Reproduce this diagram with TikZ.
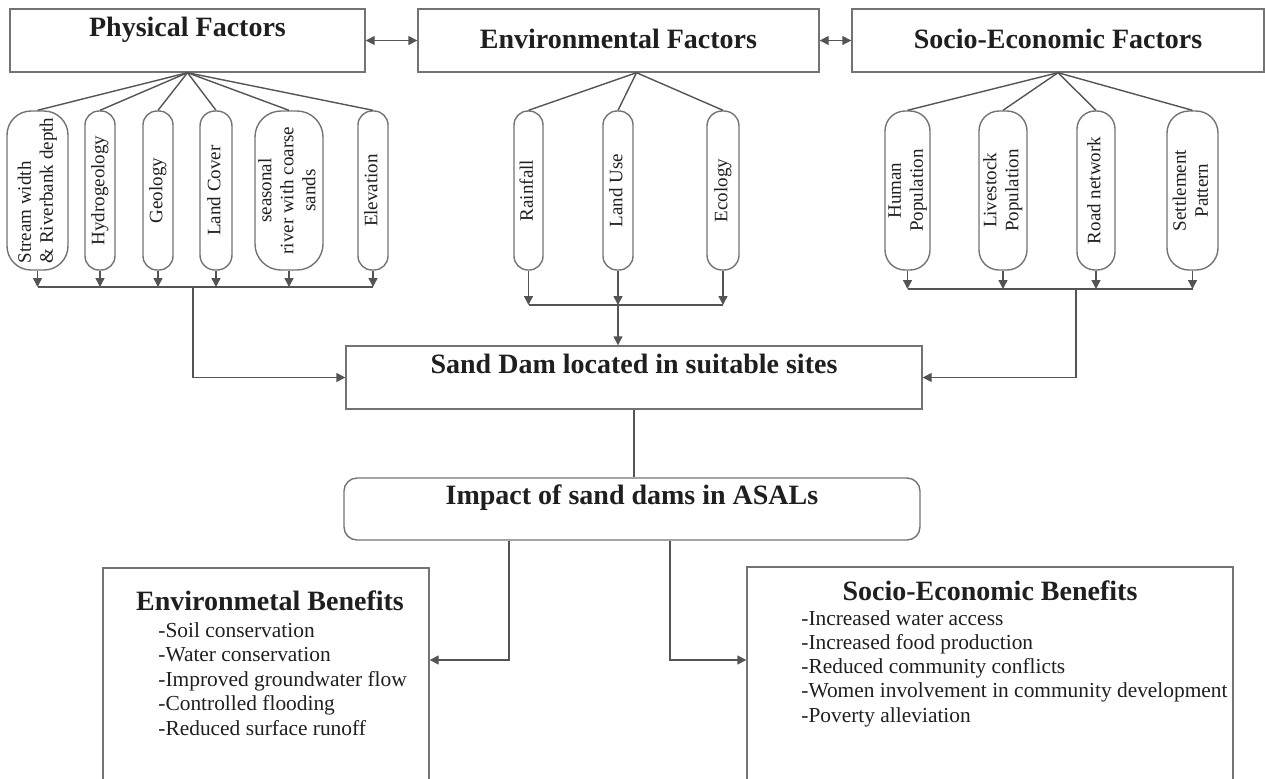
\documentclass[tikz,border=0pt]{standalone}
\usepackage{fontspec}
\setmainfont{Liberation Serif}
\usepackage{xcolor}
\definecolor{edge}{gray}{.33}
\definecolor{frame}{gray}{.45}
\definecolor{ink}{gray}{.12}
\usepackage{graphicx}
\usepackage{tikz}
\usetikzlibrary{arrows.meta}
\newcommand{\heightpill}{79.5pt}
\newcommand{\heightbox}{31.5pt}
\newcommand{\side}[2][c]{\rotatebox{90}{\begin{tabular}{@{}#1@{}}#2\end{tabular}}}
\tikzset{
    common/.style={draw=frame, line width=0.7pt, text=ink, inner sep=0pt},
    factor/.style={common, rectangle, minimum height=\heightbox, font=\fontsize{14}{16}\selectfont\bfseries},
    lift/.style={text height=9.5pt, text depth=#1},
    pill/.style={common, rectangle, rounded corners=#1, minimum height=\heightpill, font=\fontsize{9.5}{11}\selectfont},
    heading/.style={text=ink, inner sep=0pt, anchor=base, font=\fontsize{14}{16}\selectfont\bfseries},
    item/.style={text=ink, inner sep=0pt, anchor=base west, font=\fontsize{10.7}{12}\selectfont},
    link/.style={draw=edge, line width=0.7pt},
    arrow/.style={link, -{Triangle[length=4.5pt, width=4.5pt]}},
    both/.style={link, {Triangle[length=4.5pt, width=4.5pt]}-{Triangle[length=4.5pt, width=4.5pt]}}
}

\begin{document}
\begin{tikzpicture}[x=0.5pt, y=-0.5pt]
    \useasboundingbox (0,0) rectangle (1265,778);
    \clip (0,0) rectangle (1265,778);

    % three groups of factors
    \node[factor, minimum width=177.5pt, lift=14pt] (phys) at (187.5,40.5) {Physical Factors};
    \node[factor, minimum width=200.5pt, lift=2pt] (env) at (618.5,40.5) {Environmental Factors};
    \node[factor, minimum width=206pt, lift=2pt] (soc) at (1058,40.5) {Socio-Economic Factors};

    \draw[both] (phys) -- (env);
    \draw[both] (env) -- (soc);

    % physical
    \node[pill=12pt, minimum width=30.5pt] (stream) at (37.5,190.5) {\side[l]{Stream width\\\& Riverbank depth}};
    \node[pill=7pt, minimum width=15pt] (hydro) at (100,190.5) {\side{Hydrogeology}};
    \node[pill=7pt, minimum width=15pt] (geology) at (158,190.5) {\side{Geology}};
    \node[pill=7.5pt, minimum width=16pt] (landcover) at (216,190.5) {\side{Land Cover}};
    \node[pill=13pt, minimum width=34pt] (seasonal) at (289,190.5) {\side{seasonal\\river with coarse\\sands}};
    \node[pill=7pt, minimum width=15pt] (elevation) at (373,190.5) {\side{Elevation}};

    % environmental
    \node[pill=7pt, minimum width=14.5pt] (rainfall) at (528.5,190.5) {\side{Rainfall}};
    \node[pill=7pt, minimum width=15pt] (landuse) at (618,190.5) {\side{Land Use}};
    \node[pill=7.5pt, minimum width=16pt] (ecology) at (723,190.5) {\side{Ecology}};

    % socio-economic
    \node[pill=10pt, minimum width=22.5pt] (human) at (907.5,190.5) {\side{Human\\Population}};
    \node[pill=10pt, minimum width=24pt] (livestock) at (1003,190.5) {\side{Livestock\\Population}};
    \node[pill=9pt, minimum width=19pt] (road) at (1096,190.5) {\side{Road network}};
    \node[pill=11pt, minimum width=25.5pt] (settlement) at (1192.5,190.5) {\side{Settlement\\Pattern}};

    \coordinate (phys-bus) at (193,287);
    \coordinate (env-bus) at (618,305);
    \coordinate (soc-bus) at (1076,289);

    \foreach \p in {stream,hydro,geology,landcover,seasonal,elevation} {
        \draw[link] (phys.south) -- (\p.north);
        \draw[arrow] (\p.south) -- (\p.south |- phys-bus);
    }
    \foreach \p in {rainfall,landuse,ecology} {
        \draw[link] ([xshift=9pt]env.south) -- (\p.north);
        \draw[arrow] (\p.south) -- (\p.south |- env-bus);
    }
    \foreach \p in {human,livestock,road,settlement} {
        \draw[link] (soc.south) -- (\p.north);
        \draw[arrow] (\p.south) -- (\p.south |- soc-bus);
    }
    \draw[link] (stream.south |- phys-bus) -- (elevation.south |- phys-bus);
    \draw[link] (rainfall.south |- env-bus) -- (ecology.south |- env-bus);
    \draw[link] (human.south |- soc-bus) -- (settlement.south |- soc-bus);

    % sand dam and impact
    \node[factor, minimum width=288pt, lift=14pt] (dam) at (634,377.5) {Sand Dam located in suitable sites};
    \node[factor, rounded corners=6.5pt, minimum width=288pt, minimum height=31pt, lift=14.5pt] (impact) at (632,509) {Impact of sand dams in ASALs};

    \draw[arrow] (phys-bus) |- (dam.west);
    \draw[arrow] (env-bus) -- (env-bus |- dam.north);
    \draw[arrow] (soc-bus) |- (dam.east);
    \draw[link] (dam.south) -- (dam.south |- impact.north);

    % benefits
    \node[common, minimum width=163pt, minimum height=116pt] (env-box) at (266,684) {};
    \node[common, minimum width=243pt, minimum height=116.5pt] (soc-box) at (990,683.5) {};

    \node[heading] (env-title) at (270,610) {Environmetal Benefits};
    \foreach \t [count=\i from 0] in {-Soil conservation,-Water conservation,-Improved groundwater flow,-Controlled flooding,-Reduced surface runoff}
        \node[item] (env-item-\i) at (158,{637+24.5*\i}) {\t};

    \node[heading] (soc-title) at (990,600) {Socio-Economic Benefits};
    \foreach \t [count=\i from 0] in {-Increased water access,-Increased food production,-Reduced community conflicts,-Women involvement in community development,-Poverty alleviation}
        \node[item] (soc-item-\i) at (801,{625+24.25*\i}) {\t};

    \coordinate (split) at (0,660);
    \draw[arrow] ([xshift=-61.5pt]impact.south) |- (env-box.east |- split);
    \draw[arrow] ([xshift=19pt]impact.south) |- (soc-box.west |- split);
\end{tikzpicture}
\end{document}
